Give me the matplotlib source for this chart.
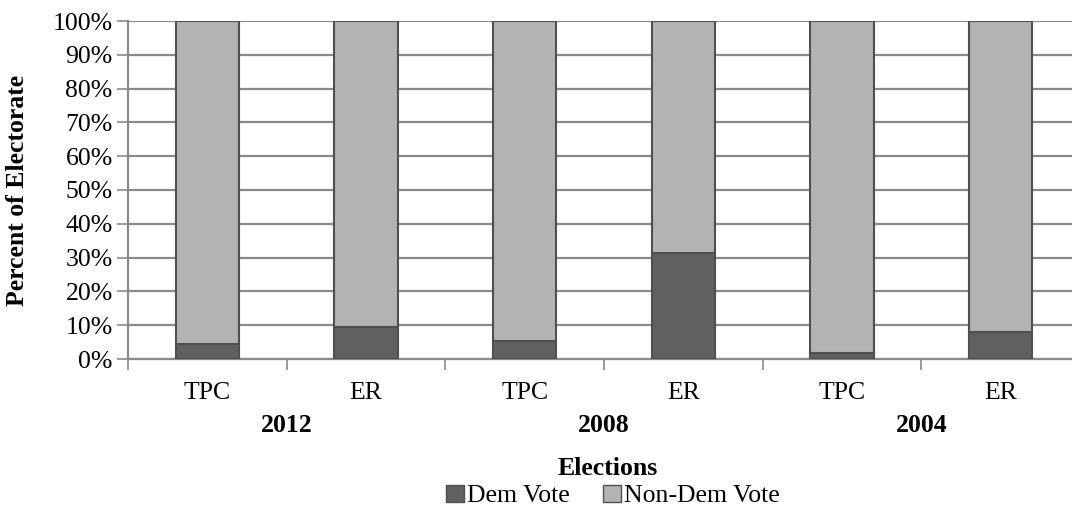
import numpy as np
import matplotlib.pyplot as plt
from matplotlib.patches import Patch
from matplotlib.transforms import blended_transform_factory

plt.rcParams['font.family'] = ['Liberation Serif', 'DejaVu Serif']

categories = ['TPC', 'ER', 'TPC', 'ER', 'TPC', 'ER']
years = ['2012', '2008', '2004']
dem_vote = [4.4, 9.4, 5.2, 31.4, 1.8, 8.0]
non_dem_vote = [95.6, 90.6, 94.8, 68.6, 98.2, 92.0]

dark = '#606060'
light = '#b3b3b3'
edge = '#505050'
grid_c = '#8a8a8a'
fs = 18.5

fig = plt.figure(figsize=(10.72, 5.12), dpi=100)
ax = fig.add_axes([128 / 1072, 1 - 359 / 512, 952 / 1072, 338 / 512])

x = np.arange(len(categories))
ax.bar(x, dem_vote, width=0.4, color=dark, edgecolor=edge, linewidth=1.5, zorder=3)
ax.bar(x, non_dem_vote, width=0.4, bottom=dem_vote, color=light, edgecolor=edge,
       linewidth=1.5, zorder=3)

ax.set_xlim(-0.5, len(categories) - 0.5)
ax.set_ylim(0, 100)
ax.set_yticks(np.arange(0, 101, 10))
ax.set_yticklabels([f'{v}%' for v in range(0, 101, 10)], fontsize=fs)
ax.yaxis.grid(True, color=grid_c, linewidth=1.6, zorder=0)
ax.set_axisbelow(True)

ax.set_xticks([])
ax.set_xticks(np.arange(-0.5, len(categories), 1), minor=True)
ax.tick_params(axis='x', which='minor', length=8, width=1.2, color=grid_c, direction='out')
ax.tick_params(axis='y', length=8, width=1.2, color=grid_c, direction='out', pad=3)

for s in ['top', 'right']:
    ax.spines[s].set_visible(False)
for s in ['left', 'bottom']:
    ax.spines[s].set_color(grid_c)
    ax.spines[s].set_linewidth(1.6)

tr = blended_transform_factory(ax.transData, fig.transFigure)
for i, c in enumerate(categories):
    ax.text(i, 1 - 399 / 512, c, transform=tr, ha='center', va='baseline', fontsize=fs)
for j, yr in enumerate(years):
    ax.text(2 * j + 0.5, 1 - 432 / 512, yr, transform=tr, ha='center', va='baseline',
            fontsize=fs, fontweight='bold')

fig.text(608 / 1072, 1 - 475 / 512, 'Elections', ha='center', va='baseline',
         fontsize=fs, fontweight='bold')
fig.text(18 / 1072, 1 - 190 / 512, 'Percent of Electorate', rotation=90, ha='center',
         va='center', fontsize=fs, fontweight='bold')

handles = [Patch(facecolor=dark, edgecolor=edge, label='Dem Vote'),
           Patch(facecolor=light, edgecolor=edge, label='Non-Dem Vote')]
fig.legend(handles=handles, loc='center', bbox_to_anchor=(613 / 1072, 1 - 496 / 512),
           ncol=2, frameon=False, fontsize=fs, handlelength=0.7, handleheight=0.7,
           handletextpad=0.1, columnspacing=1.3, borderpad=0)

fig.savefig('out.png', dpi=100)
